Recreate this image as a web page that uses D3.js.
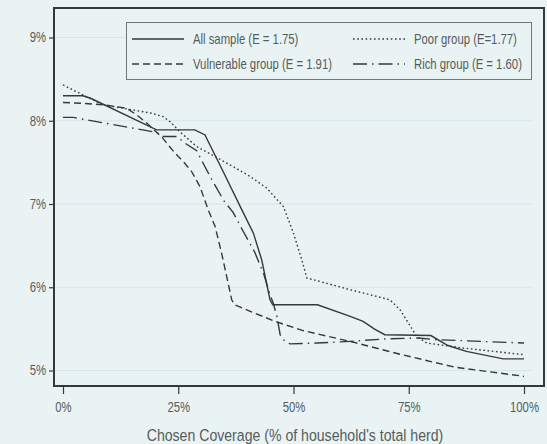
<!DOCTYPE html>
<html>
<head>
<meta charset="utf-8">
<script src="https://cdn.jsdelivr.net/npm/d3@7"></script>
<style>
  body { margin: 0; background: #eaf3f4; }
  svg { display: block; }
  text { font-family: "Liberation Sans Narrow", "Liberation Sans", Arial, sans-serif; fill: #555c5c; }
</style>
</head>
<body>
<div id="chart"></div>
<script>
// chart values (coverage %, premium rate %)
const allSample = [[0,8.30],[4.3,8.30],[6,8.27],[20.3,7.89],[28.6,7.89],[30.8,7.83],[35,7.36],[38.8,6.93],[41.3,6.65],[43.1,6.33],[44.9,5.85],[45.5,5.79],[55.2,5.79],[62.3,5.65],[65.1,5.59],[67.5,5.50],[69.8,5.43],[79.8,5.42],[83.5,5.30],[87.5,5.23],[95.5,5.14],[100,5.14]];
const poorGroup = [[0,8.43],[8.7,8.19],[13.1,8.15],[19.2,8.09],[21.7,8.05],[23.2,7.99],[25.7,7.85],[29,7.69],[32.3,7.59],[36.9,7.45],[40.6,7.33],[44.2,7.19],[47.8,6.97],[50,6.65],[51.8,6.33],[52.9,6.11],[55.7,6.07],[62.3,5.97],[70.9,5.85],[73.1,5.73],[75.6,5.51],[76.7,5.41],[78.9,5.33],[86.8,5.27],[100,5.19]];
const vulnerableGroup = [[0,8.22],[4,8.21],[9,8.19],[13.8,8.15],[16,8.07],[18.2,7.97],[21.5,7.80],[24.3,7.61],[26.1,7.51],[27.9,7.39],[29.7,7.21],[31.5,6.93],[33,6.73],[34.4,6.41],[35.5,6.13],[36.6,5.85],[37.2,5.79],[40.6,5.71],[46,5.59],[52,5.48],[63,5.34],[73.5,5.19],[85,5.04],[100,4.93]];
const richGroup = [[0,8.04],[2.2,8.04],[20.3,7.86],[21.8,7.81],[24.7,7.81],[26.5,7.73],[29,7.64],[30.4,7.49],[32.4,7.28],[35,7.03],[36.9,6.90],[39.1,6.67],[41.6,6.42],[43.6,6.15],[44.9,5.91],[45.6,5.81],[46.4,5.65],[47.1,5.43],[47.8,5.37],[49.2,5.32],[55,5.33],[62.3,5.35],[70,5.38],[77,5.39],[81,5.37],[100,5.33]];

const seriesNames = ["All sample (E = 1.75)", "Poor group (E=1.77)", "Vulnerable group (E = 1.91)", "Rich group (E = 1.60)"];
const xTicks = [0, 25, 50, 75, 100];
const yTicks = [5, 6, 7, 8, 9];
const xTitle = "Chosen Coverage (% of household's total herd)";

const width = 547, height = 444;
const ink = "#323b3b";
const dashes = ["none", "1.6,2.6", "7,4", "14,5,1.5,5"];
const squeeze = 0.81;   // no narrow font installed, so squeeze text horizontally

// squeeze a text element about its own x position
function condense(sel, k) {
    sel.each(function() {
        const t = d3.select(this);
        const tx = +t.attr("x") || 0;
        t.attr("transform", `translate(${tx},0) scale(${k},1) translate(${-tx},0)`);
    });
}

const svg = d3.select("#chart").append("svg")
    .attr("width", width)
    .attr("height", height);

svg.append("rect").attr("width", width).attr("height", height).attr("fill", "#eaf3f4");

const x = d3.scaleLinear().domain([0, 100]).range([63, 524]);
const y = d3.scaleLinear().domain([5, 9]).range([370.5, 37.5]);

// gridlines
svg.append("g")
    .selectAll("line")
    .data(yTicks)
    .join("line")
    .attr("x1", 55).attr("x2", 533)
    .attr("y1", d => y(d)).attr("y2", d => y(d))
    .attr("stroke", "#d6e6ea")
    .attr("stroke-width", 1);

// y axis
const yAxis = svg.append("g")
    .attr("transform", "translate(54,0)")
    .call(d3.axisLeft(y).tickValues(yTicks).tickFormat(d => d + "%").tickSize(5).tickPadding(3));
yAxis.select(".domain").remove();
yAxis.selectAll(".tick line").attr("stroke", ink).attr("stroke-width", 1.2);
yAxis.selectAll(".tick text").attr("font-size", 14).attr("fill", "#555c5c")
    .call(condense, squeeze);

// x axis
const xAxis = svg.append("g")
    .attr("transform", "translate(0,386)")
    .call(d3.axisBottom(x).tickValues(xTicks).tickFormat(d => d + "%").tickSize(8).tickPadding(8));
xAxis.select(".domain").remove();
xAxis.selectAll(".tick line").attr("stroke", ink).attr("stroke-width", 1.2);
xAxis.selectAll(".tick text").attr("font-size", 14).attr("fill", "#555c5c")
    .call(condense, squeeze);

svg.selectAll(".tick text").attr("font-family", null);

// series lines
const line = d3.line().x(d => x(d[0])).y(d => y(d[1]));
const allSeries = [allSample, poorGroup, vulnerableGroup, richGroup];

svg.append("g")
    .selectAll("path")
    .data(allSeries)
    .join("path")
    .attr("d", line)
    .attr("fill", "none")
    .attr("stroke", ink)
    .attr("stroke-width", 1.4)
    .attr("stroke-dasharray", (d, i) => dashes[i]);

// plot frame
svg.append("rect")
    .attr("x", 54).attr("y", 8)
    .attr("width", 490).attr("height", 378)
    .attr("fill", "none")
    .attr("stroke", ink)
    .attr("stroke-width", 2);

// legend
const legend = svg.append("g");
legend.append("rect")
    .attr("x", 126.5).attr("y", 22.5)
    .attr("width", 405).attr("height", 57)
    .attr("fill", "#eaf3f4")
    .attr("stroke", "#6f7878")
    .attr("stroke-width", 1);

const legendPos = [[132, 39], [353, 39], [132, 64], [353, 64]];
seriesNames.forEach((name, i) => {
    const [lx, ly] = legendPos[i];
    legend.append("line")
        .attr("x1", lx).attr("x2", lx + 52)
        .attr("y1", ly).attr("y2", ly)
        .attr("stroke", ink)
        .attr("stroke-width", 1.4)
        .attr("stroke-dasharray", dashes[i]);
    legend.append("text")
        .attr("x", lx + 61).attr("y", ly)
        .attr("dy", "0.35em")
        .attr("font-size", 14)
        .text(name)
        .call(condense, squeeze);
});

// axis title
svg.append("text")
    .attr("x", 295).attr("y", 435)
    .attr("dy", "0.35em")
    .attr("text-anchor", "middle")
    .attr("font-size", 17)
    .text(xTitle)
    .call(condense, 0.83);
</script>
</body>
</html>
